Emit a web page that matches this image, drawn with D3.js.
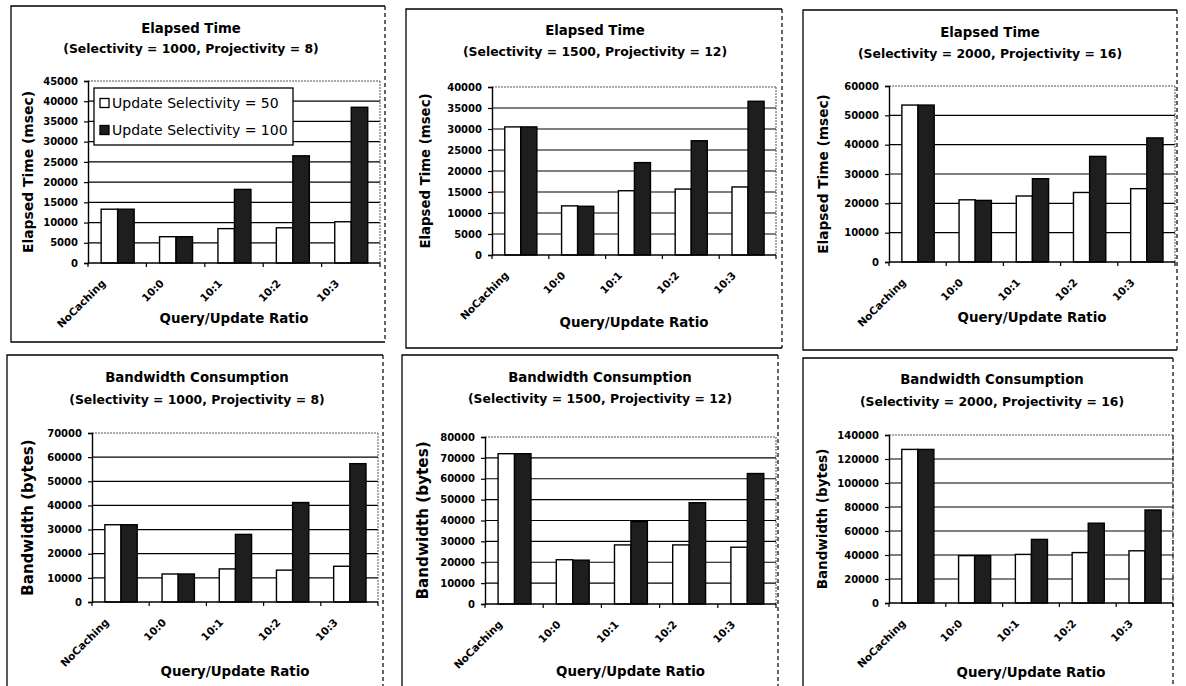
<!DOCTYPE html>
<html>
<head>
<meta charset="utf-8">
<script src="https://cdn.jsdelivr.net/npm/d3@7"></script>
<style>
  html, body { margin: 0; padding: 0; background: #fff; }
  svg { display: block; }
  text { font-family: "DejaVu Sans", sans-serif; fill: #000; }
</style>
</head>
<body>
<svg id="chart" width="1186" height="686"></svg>
<script>
// ---------------- DATA ----------------
const categories = ["NoCaching", "10:0", "10:1", "10:2", "10:3"];
const seriesNames = ["Update Selectivity = 50", "Update Selectivity = 100"];

const elapsedS1000_U50  = [13300, 6500, 8500, 8700, 10200];
const elapsedS1000_U100 = [13300, 6500, 18200, 26500, 38500];
const elapsedS1500_U50  = [30500, 11700, 15300, 15700, 16200];
const elapsedS1500_U100 = [30500, 11600, 22000, 27200, 36600];
const elapsedS2000_U50  = [53500, 21200, 22500, 23700, 25000];
const elapsedS2000_U100 = [53500, 21000, 28400, 36000, 42300];

const bandwidthS1000_U50  = [32000, 11600, 13700, 13200, 14800];
const bandwidthS1000_U100 = [32000, 11600, 28000, 41200, 57300];
const bandwidthS1500_U50  = [72000, 21200, 28300, 28300, 27200];
const bandwidthS1500_U100 = [72000, 21000, 39500, 48500, 62500];
const bandwidthS2000_U50  = [128000, 39500, 40500, 42000, 43500];
const bandwidthS2000_U100 = [128000, 39500, 53000, 66500, 77500];

const ticksElapsed1000 = [0, 5000, 10000, 15000, 20000, 25000, 30000, 35000, 40000, 45000];
const ticksElapsed1500 = [0, 5000, 10000, 15000, 20000, 25000, 30000, 35000, 40000];
const ticksElapsed2000 = [0, 10000, 20000, 30000, 40000, 50000, 60000];
const ticksBandwidth1000 = [0, 10000, 20000, 30000, 40000, 50000, 60000, 70000];
const ticksBandwidth1500 = [0, 10000, 20000, 30000, 40000, 50000, 60000, 70000, 80000];
const ticksBandwidth2000 = [0, 20000, 40000, 60000, 80000, 100000, 120000, 140000];

const titleLine1 = ["Elapsed Time", "Bandwidth Consumption"];
const titleLine2 = [
  "(Selectivity = 1000, Projectivity = 8)",
  "(Selectivity = 1500, Projectivity = 12)",
  "(Selectivity = 2000, Projectivity = 16)"
];
const yTitles = ["Elapsed Time (msec)", "Bandwidth (bytes)"];
const xTitle = "Query/Update Ratio";

// ---------------- LAYOUT ----------------
const panels = [
  { s: [elapsedS1000_U50, elapsedS1000_U100], ticks: ticksElapsed1000, t1: titleLine1[0], t2: titleLine2[0], yt: yTitles[0],
    frame: [11, 6, 385, 342], plot: [88, 81, 380, 263], tx: 191, ty1: 32.7, ty2: 53, ytx: 28, ytSize: 13.9, xty: 323, legend: true },
  { s: [elapsedS1500_U50, elapsedS1500_U100], ticks: ticksElapsed1500, t1: titleLine1[0], t2: titleLine2[1], yt: yTitles[0],
    frame: [406, 9, 782, 348], plot: [492, 87, 776, 255], tx: 595, ty1: 35, ty2: 56, ytx: 425, ytSize: 13.3, xty: 327 },
  { s: [elapsedS2000_U50, elapsedS2000_U100], ticks: ticksElapsed2000, t1: titleLine1[0], t2: titleLine2[2], yt: yTitles[0],
    frame: [803, 10, 1177, 350], plot: [889, 86, 1175, 262], tx: 990, ty1: 37.3, ty2: 58.3, ytx: 823, ytSize: 13.7, xty: 322 },
  { s: [bandwidthS1000_U50, bandwidthS1000_U100], ticks: ticksBandwidth1000, t1: titleLine1[1], t2: titleLine2[0], yt: yTitles[1],
    frame: [7, 355, 383, 700], plot: [92, 433, 378, 602], tx: 197, ty1: 381.7, ty2: 404, ytx: 28, ytSize: 15, xty: 676 },
  { s: [bandwidthS1500_U50, bandwidthS1500_U100], ticks: ticksBandwidth1500, t1: titleLine1[1], t2: titleLine2[1], yt: yTitles[1],
    frame: [402, 355, 778, 700], plot: [485, 437, 776, 604], tx: 600, ty1: 382.3, ty2: 403.3, ytx: 423, ytSize: 15.2, xty: 676 },
  { s: [bandwidthS2000_U50, bandwidthS2000_U100], ticks: ticksBandwidth2000, t1: titleLine1[1], t2: titleLine2[2], yt: yTitles[1],
    frame: [803, 358, 1173, 700], plot: [889, 435, 1173, 603], tx: 992, ty1: 384.3, ty2: 406, ytx: 822, ytSize: 13.5, xty: 677 }
];

const fills = ["#ffffff", "#1e1e1e"];
const svg = d3.select("#chart");

panels.forEach(p => {
  const g = svg.append("g");
  const [fx0, fy0, fx1, fy1] = p.frame;
  const [pl, pt, pr, pb] = p.plot;

  // frame
  g.append("path").attr("d", `M${fx1},${fy0}H${fx0}V${fy1}H${fx1}`)
    .attr("fill", "none").attr("stroke", "#000").attr("stroke-width", 1.3);
  g.append("line").attr("x1", fx1).attr("x2", fx1).attr("y1", fy0).attr("y2", fy1)
    .attr("stroke", "#000").attr("stroke-width", 1.2).attr("stroke-dasharray", "4,3");

  // titles
  g.append("text").attr("x", p.tx).attr("y", p.ty1).attr("text-anchor", "middle")
    .attr("font-size", 13.3).attr("font-weight", "bold").text(p.t1);
  g.append("text").attr("x", p.tx).attr("y", p.ty2).attr("text-anchor", "middle")
    .attr("font-size", 12.4).attr("font-weight", "bold").text(p.t2);

  // scales
  const x = d3.scaleBand().domain(categories).range([pl, pr]).paddingInner(0).paddingOuter(0);
  const bw = x.bandwidth();
  const xs = d3.scaleBand().domain([0, 1]).range([0.225 * bw, 0.79 * bw]).padding(0);
  const yMax = p.ticks[p.ticks.length - 1];
  const y = d3.scaleLinear().domain([0, yMax]).range([pb, pt]);

  // gridlines
  g.selectAll(".grid").data(p.ticks.filter(t => t > 0)).join("line")
    .attr("x1", pl).attr("x2", pr).attr("y1", d => y(d)).attr("y2", d => y(d))
    .attr("stroke", d => d === yMax ? "#555" : "#000")
    .attr("stroke-width", d => d === yMax ? 1 : 1.2)
    .attr("stroke-dasharray", d => d === yMax ? "2,1" : null);
  // plot right edge
  g.append("line").attr("x1", pr).attr("x2", pr).attr("y1", pt).attr("y2", pb)
    .attr("stroke", "#555").attr("stroke-dasharray", "2,1");

  // bars
  p.s.forEach((vals, si) => {
    g.selectAll(".bar" + si).data(vals).join("rect")
      .attr("x", (d, i) => x(categories[i]) + xs(si))
      .attr("width", xs.bandwidth())
      .attr("y", d => y(d))
      .attr("height", d => pb - y(d))
      .attr("fill", fills[si])
      .attr("stroke", "#000").attr("stroke-width", 1.4);
  });

  // y axis
  const ya = g.append("g").attr("transform", `translate(${pl},0)`)
    .call(d3.axisLeft(y).tickValues(p.ticks).tickSize(4).tickPadding(6).tickFormat(d3.format("d")));
  ya.select(".domain").attr("stroke", "#000").attr("stroke-width", 1.4);
  ya.selectAll(".tick line").attr("stroke", "#000").attr("stroke-width", 1.2);
  ya.selectAll(".tick text").attr("font-family", "DejaVu Sans").attr("font-size", 10)
    .attr("font-weight", "bold").attr("fill", "#000");

  // x axis line + boundary ticks
  g.append("line").attr("x1", pl).attr("x2", pr).attr("y1", pb).attr("y2", pb)
    .attr("stroke", "#000").attr("stroke-width", 1.4);
  g.selectAll(".xt").data(d3.range(categories.length + 1)).join("line")
    .attr("x1", i => pl + i * bw).attr("x2", i => pl + i * bw)
    .attr("y1", pb).attr("y2", pb + 4)
    .attr("stroke", "#000").attr("stroke-width", 1.2);

  // x tick labels (rotated)
  g.selectAll(".xl").data(categories).join("text")
    .attr("transform", d => `translate(${x(d) + bw / 2 - 11},${pb + 21}) rotate(-45)`)
    .attr("text-anchor", "end")
    .attr("font-size", 10.5)
    .attr("font-weight", "bold")
    .text(d => d);

  // axis titles
  g.append("text").attr("x", (pl + pr) / 2).attr("y", p.xty).attr("text-anchor", "middle")
    .attr("font-size", 13.4).attr("font-weight", "bold").text(xTitle);
  g.append("text").attr("transform", `translate(${p.ytx},${(pt + pb) / 2}) rotate(-90)`)
    .attr("text-anchor", "middle").attr("dominant-baseline", "central")
    .attr("font-size", p.ytSize).attr("font-weight", "bold").text(p.yt);

  // legend
  if (p.legend) {
    const lg = g.append("g");
    lg.append("rect").attr("x", 94).attr("y", 88).attr("width", 199).attr("height", 57)
      .attr("fill", "#fff").attr("stroke", "#000").attr("stroke-width", 1.3);
    seriesNames.forEach((name, i) => {
      const cy = 103 + i * 27;
      lg.append("rect").attr("x", 100).attr("y", cy - 4.5).attr("width", 9).attr("height", 9)
        .attr("fill", fills[i]).attr("stroke", "#000").attr("stroke-width", 1.3);
      lg.append("text").attr("x", 112).attr("y", cy).attr("dominant-baseline", "central")
        .attr("font-size", 14).text(name);
    });
  }
});
</script>
</body>
</html>
